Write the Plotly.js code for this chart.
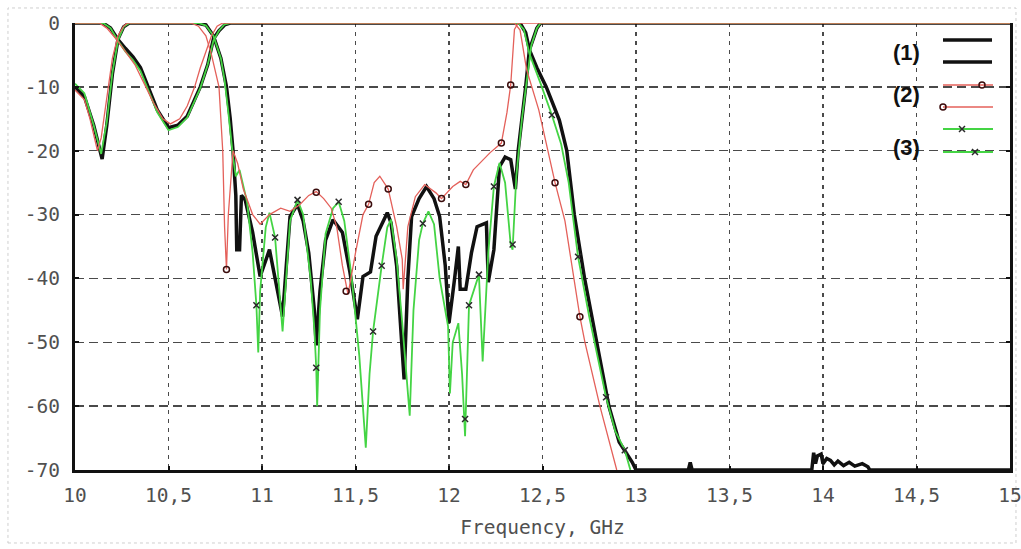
<!DOCTYPE html>
<html><head><meta charset="utf-8">
<script src="https://cdn.plot.ly/plotly-3.0.1.min.js"></script>
<style>html,body{margin:0;padding:0;background:#fff}#chart{width:1021px;height:549px}</style>
</head><body><div id="chart"></div>
<script>
// ---- tick labels ----
const xTickVals = [10, 10.5, 11, 11.5, 12, 12.5, 13, 13.5, 14, 14.5, 15];
const xTickText = ["10", "10,5", "11", "11,5", "12", "12,5", "13", "13,5", "14", "14,5", "15"];
const yTickVals = [0, -10, -20, -30, -40, -50, -60, -70];
const yTickText = ["0", "-10", "-20", "-30", "-40", "-50", "-60", "-70"];
const seriesLabels = ["(1)", "(2)", "(3)"];
const xTitle = "Frequency, GHz";
const yUnit = "dB";

// ---- series (1): black, reflection ----
const s1ReflF = [10.00,10.05,10.10,10.145,10.17,10.20,10.23,10.26,10.29,10.65,
  10.70,10.74,10.78,10.81,10.83,10.845,10.86,10.865,10.88,10.89,
  10.91,10.95,10.99,11.02,11.04,11.07,11.09,11.11,11.13,11.15,
  11.19,11.22,11.25,11.28,11.29,11.31,11.34,11.38,11.43,11.47,
  11.51,11.54,11.58,11.61,11.67,11.69,11.72,11.75,11.76,11.78,
  11.80,11.84,11.88,11.92,11.95,11.98,12.00,12.03,12.05,12.06,
  12.09,12.12,12.15,12.20,12.21,12.24,12.27,12.30,12.33,12.355,
  12.37,12.41,12.43,12.47,12.49,15.00];
const s1ReflDb = [-10,-11.5,-16,-21.3,-16,-8,-2.5,-0.6,0,0,
  -0.3,-2,-5.5,-10,-15,-20,-27,-35.5,-35.5,-27,
  -27.7,-32.8,-39.7,-37,-35.5,-40,-43,-46,-38,-30.3,
  -28.4,-31,-36,-45,-50.5,-42,-34,-30.8,-32.8,-39,
  -46.4,-39.7,-39,-33.4,-29.7,-31.3,-38,-52,-55.8,-40,
  -30.3,-27.5,-25.6,-27.5,-30.3,-38,-47,-40,-35,-41.7,
  -41.7,-36,-31.9,-31.3,-40.6,-35.5,-22.5,-21,-21.4,-26,
  -20,-10,-4.2,-0.8,0,0];

// ---- series (1): black, transmission ----
const s1TransF = [10.00,10.15,10.19,10.23,10.27,10.31,10.35,10.40,10.44,10.50,
  10.55,10.60,10.64,10.67,10.71,10.74,10.77,10.80,10.83,12.38,
  12.41,12.43,12.47,12.52,12.59,12.63,12.67,12.725,12.79,12.855,
  12.91,12.98,13.00,13.28,13.29,13.30,13.94,13.95,13.96,13.97,
  13.99,14.00,14.02,14.04,14.06,14.08,14.11,14.14,14.17,14.21,
  14.24,14.25,15.00];
const s1TransDb = [0,0,-0.8,-2.6,-4,-5.3,-7,-10.5,-13.6,-16.4,
  -16,-14.6,-12,-10,-6.5,-2.5,-1.2,-0.3,0,0,
  -1.5,-4.2,-7,-10,-15.2,-20,-30,-40,-50,-60,
  -65.6,-68.8,-70,-70,-68.8,-70,-70,-67.3,-69,-67.8,
  -67.5,-69,-68.2,-68.5,-69.2,-68.6,-69.3,-68.8,-69.4,-69,
  -69.5,-70,-70];

// ---- series (2): red, reflection ----
const s2ReflF = [10.00,10.05,10.08,10.12,10.14,10.17,10.20,10.23,10.26,10.28,
  10.62,10.66,10.70,10.73,10.77,10.79,10.80,10.81,10.82,10.845,
  10.87,10.90,10.95,10.99,11.04,11.10,11.15,11.20,11.25,11.29,
  11.33,11.37,11.40,11.43,11.46,11.50,11.54,11.57,11.60,11.63,
  11.675,11.72,11.75,11.755,11.78,11.82,11.87,11.93,11.96,12.02,
  12.06,12.09,12.13,12.22,12.28,12.31,12.33,12.35,12.37,15.00];
const s2ReflDb = [-10.5,-12,-15,-20,-18,-12,-5.5,-2,-0.5,0,
  0,-0.5,-2,-5,-10,-20,-32,-38.6,-30,-20,
  -22,-26,-30,-31.5,-30,-29,-29.5,-28.5,-27,-26.4,
  -27.5,-29,-32,-38,-42.5,-36,-30,-28.4,-25,-24,
  -26,-31.9,-37,-41.7,-31.9,-27.2,-25.3,-26.6,-27.5,-25.6,
  -24.8,-25.3,-23,-20.3,-18.8,-14,-9.7,-1,0,0];

// ---- series (2): red, transmission ----
const s2TransF = [10.00,10.13,10.17,10.22,10.27,10.32,10.37,10.42,10.47,10.51,
  10.56,10.60,10.64,10.67,10.70,10.73,10.76,10.79,12.35,12.38,
  12.415,12.48,12.567,12.62,12.70,12.727,12.807,12.897];
const s2TransDb = [0,0,-0.8,-2.5,-4.5,-6.5,-9.5,-12.5,-15,-15.8,
  -15,-13,-10,-7,-4.5,-2,-0.5,0,0,-1.1,
  -7.3,-13.6,-25,-31,-46,-50,-60,-70];

// red "o" markers
const s2MarkF = [10.81,11.29,11.45,11.57,11.675,11.96,12.09,12.28,12.33,12.567,12.70];
const s2MarkDb = [-38.6,-26.5,-42,-28.4,-26,-27.5,-25.3,-18.8,-9.7,-25,-46];

// ---- series (3): green, reflection ----
const s3ReflF = [10.00,10.05,10.10,10.14,10.17,10.20,10.23,10.26,10.29,10.66,
  10.70,10.74,10.78,10.80,10.82,10.845,10.86,10.88,10.92,10.95,
  10.97,10.98,10.99,11.02,11.04,11.07,11.11,11.15,11.19,11.22,
  11.26,11.28,11.29,11.295,11.31,11.34,11.38,11.41,11.44,11.48,
  11.52,11.555,11.575,11.594,11.64,11.67,11.69,11.72,11.75,11.79,
  11.81,11.84,11.86,11.89,11.92,11.95,11.995,12.005,12.02,12.05,
  12.07,12.086,12.107,12.13,12.16,12.18,12.21,12.24,12.27,12.30,
  12.33,12.34,12.36,12.39,12.42,12.44,12.47,12.49,15.00];
const s3ReflDb = [-9.5,-11,-16,-20.5,-15.5,-7.8,-2.7,-0.6,0,0,
  -0.4,-2,-5.5,-9,-14,-21,-24,-23,-28,-36,
  -44.2,-51.6,-42,-32,-29.7,-33.6,-48.3,-31,-27.7,-30,
  -40,-48,-54,-60,-45,-33,-29,-28,-31,-40,
  -52,-66.5,-55,-48.3,-38,-32,-30.8,-37,-47,-61.5,
  -45,-34,-31.4,-29.5,-31.5,-40,-47.5,-58,-50,-47,
  -55,-64.7,-44.2,-42,-39.4,-53,-36,-25.6,-21.9,-25,
  -34.7,-35.5,-24,-15,-8,-3.5,-0.8,0,0];

// ---- series (3): green, transmission ----
const s3TransF = [10.00,10.15,10.19,10.23,10.27,10.31,10.35,10.40,10.44,10.50,
  10.55,10.60,10.64,10.67,10.71,10.74,10.77,10.80,10.83,12.37,
  12.40,12.43,12.49,12.55,12.60,12.64,12.69,12.75,12.84,12.89,
  12.94,12.97];
const s3TransDb = [0,0,-0.8,-2.8,-4.5,-5.8,-7.5,-11.2,-14,-16.8,
  -16.3,-14.8,-12.3,-10.2,-6.5,-2.8,-1.2,-0.2,0,0,
  -1,-4.8,-9.5,-14.4,-19,-25,-36.6,-46,-58.6,-64,
  -66.9,-70];

// green "x" markers
const s3MarkF = [10.97,11.07,11.19,11.29,11.41,11.594,11.64,11.86,12.086,12.107,12.16,12.24,12.34,12.55,12.69,12.84,12.94];
const s3MarkDb = [-44.2,-33.6,-27.7,-54,-28,-48.3,-38,-31.4,-62,-44.2,-39.4,-25.6,-34.7,-14.4,-36.6,-58.6,-66.9];

// ---- styles ----
const BLACK = '#111111', RED = '#e4605a', GREEN = '#44d444';
const MARK_O = '#3a0c0c', MARK_X = '#2a2a2a';

function line(x, y, color, width) {
  return {x, y, type: 'scatter', mode: 'lines', line: {color, width}, hoverinfo: 'skip', showlegend: false};
}
function marks(x, y, symbol, color) {
  return {x, y, type: 'scatter', mode: 'markers', hoverinfo: 'skip', showlegend: false,
    marker: {symbol, size: 6, color: color, line: {color, width: 1.5}}};
}

const traces = [
  line(s1ReflF, s1ReflDb, BLACK, 3.5),
  line(s1TransF, s1TransDb, BLACK, 3.5),
  line(s3ReflF, s3ReflDb, GREEN, 1.8),
  line(s3TransF, s3TransDb, GREEN, 1.8),
  line(s2ReflF, s2ReflDb, RED, 1.3),
  line(s2TransF, s2TransDb, RED, 1.3),
  marks(s2MarkF, s2MarkDb, 'circle-open', MARK_O),
  marks(s3MarkF, s3MarkDb, 'x-thin-open', MARK_X)
];

// ---- legend keys (layout only, drawn on a pixel-scaled overlay axis) ----
function key(xa, ya, color, width) {
  return {x: xa, y: ya, xaxis: 'x2', yaxis: 'y2', type: 'scatter', mode: 'lines',
    line: {color, width}, hoverinfo: 'skip', showlegend: false};
}
function keyMark(xa, ya, symbol, color) {
  return {x: xa, y: ya, xaxis: 'x2', yaxis: 'y2', type: 'scatter', mode: 'markers', hoverinfo: 'skip',
    showlegend: false, marker: {symbol, size: 6, color: color, line: {color, width: 1.5}}};
}
traces.push(
  key([943, 992], [40, 40], BLACK, 3.5),
  key([943, 992], [62, 62], BLACK, 3.5),
  key([943, 993], [85, 85], RED, 1.3),
  key([943, 993], [107, 107], RED, 1.3),
  key([943, 993], [129, 129], GREEN, 1.8),
  key([943, 993], [152, 152], GREEN, 1.8),
  keyMark([982, 943], [85, 107], 'circle-open', MARK_O),
  keyMark([962, 975], [129, 152], 'x-thin-open', MARK_X)
);

const tickFont = {family: 'DejaVu Sans Mono', size: 19.5, color: '#505050'};
const labFont = {family: 'Liberation Sans Narrow, Liberation Sans, Arial', size: 22, color: '#111'};

const layout = {
  width: 1021, height: 549,
  margin: {l: 75, r: 11, t: 23, b: 79, pad: 0},
  paper_bgcolor: '#ffffff', plot_bgcolor: '#ffffff',
  showlegend: false,
  font: tickFont,
  xaxis: {
    range: [10, 15], tickmode: 'array', tickvals: xTickVals, ticktext: xTickText,
    showgrid: true, gridcolor: '#4a4a4a', gridwidth: 1.3, griddash: '4px,5px',
    showline: true, linecolor: BLACK, linewidth: 3, mirror: false,
    ticks: 'inside', ticklen: 4, tickwidth: 2, tickcolor: BLACK,
    zeroline: false, tickfont: tickFont, ticklabelstandoff: 6, ticklabeloverflow: 'allow',
    title: {text: xTitle, font: tickFont, standoff: 14},
    automargin: false, fixedrange: true
  },
  yaxis: {
    range: [-70, 0], tickmode: 'array', tickvals: yTickVals, ticktext: yTickText,
    showgrid: true, gridcolor: '#4a4a4a', gridwidth: 1.3, griddash: '9px,5px',
    showline: true, linecolor: BLACK, linewidth: 3, mirror: 'ticks',
    ticks: 'inside', ticklen: 4, tickwidth: 2, tickcolor: BLACK,
    zeroline: false, tickfont: tickFont, ticklabelstandoff: 8, ticklabeloverflow: 'allow',
    automargin: false, fixedrange: true
  },
  xaxis2: {overlaying: 'x', range: [75, 1010], visible: false, fixedrange: true},
  yaxis2: {overlaying: 'y', range: [470, 23], visible: false, fixedrange: true},
  annotations: [
    {xref: 'x2', yref: 'y2', x: 28, y: 51, text: yUnit, showarrow: false, font: tickFont},
    {xref: 'x2', yref: 'y2', x: 906, y: 52, text: '<b>' + seriesLabels[0] + '</b>', showarrow: false, font: labFont},
    {xref: 'x2', yref: 'y2', x: 906, y: 94, text: '<b>' + seriesLabels[1] + '</b>', showarrow: false, font: labFont},
    {xref: 'x2', yref: 'y2', x: 906, y: 147, text: '<b>' + seriesLabels[2] + '</b>', showarrow: false, font: labFont}
  ],
  shapes: [
    {type: 'rect', xref: 'paper', yref: 'paper', x0: -0.0717, x1: 1.0064, y0: -0.1633, y1: 1.0336,
      line: {color: '#cfcfcf', width: 1, dash: 'dot'}, layer: 'below'}
  ]
};

Plotly.newPlot('chart', traces, layout, {displayModeBar: false, staticPlot: true});
</script>
</body></html>
